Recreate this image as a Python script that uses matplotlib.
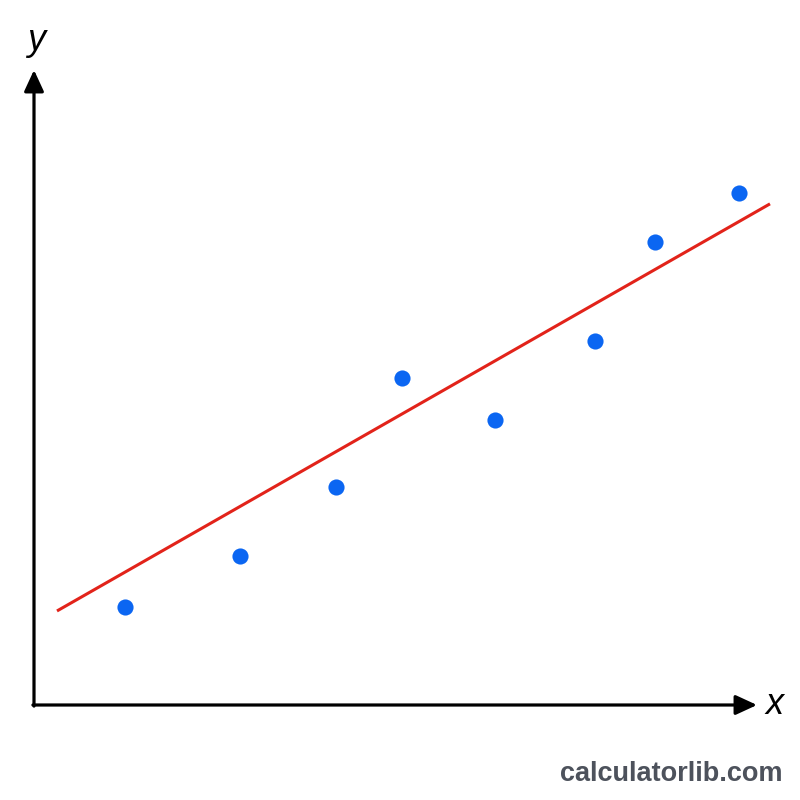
import matplotlib
matplotlib.use("Agg")
import matplotlib.pyplot as plt
import numpy as np

# data (arbitrary units)
x_vals = [91, 206, 302, 368, 461, 561, 621, 705]
y_vals = [98, 149, 218, 327, 285, 364, 463, 512]
fit_x = [23, 736]
fit_slope = 0.571
fit_intercept = 80.9

fig = plt.figure(figsize=(8, 8), dpi=100)
fig.patch.set_facecolor("white")
ax = fig.add_axes([0, 0, 1, 1])
ax.set_xlim(-34, 766)
ax.set_ylim(-95, 705)
ax.axis("off")

# axes arrows
arrow_kw = dict(arrowstyle="-|>,head_length=1.3,head_width=0.6", color="black", lw=2.3,
                shrinkA=0, shrinkB=0)
ax.annotate("", xy=(723, 0), xytext=(-1.1, 0), arrowprops=arrow_kw)
ax.annotate("", xy=(0, 635), xytext=(0, -1.1), arrowprops=arrow_kw)

ax.text(741, 0, "x", fontsize=26, style="italic", ha="center", va="center",
        family="Liberation Sans")
ax.text(2, 665, "y", fontsize=26, style="italic", ha="center", va="center",
        family="Liberation Sans")

fx = np.array(fit_x, dtype=float)
ax.plot(fx, fit_slope * fx + fit_intercept, color="#e2231a", lw=2.2, solid_capstyle="butt")
ax.scatter(x_vals, y_vals, s=135, color="#0b66f2", zorder=3, linewidths=0)

fig.text(0.839, 0.033, "calculatorlib.com", fontsize=19.5, fontweight="bold",
         color="#4d525c", ha="center", va="center", family="Liberation Sans")

fig.savefig("out.png", dpi=100)
